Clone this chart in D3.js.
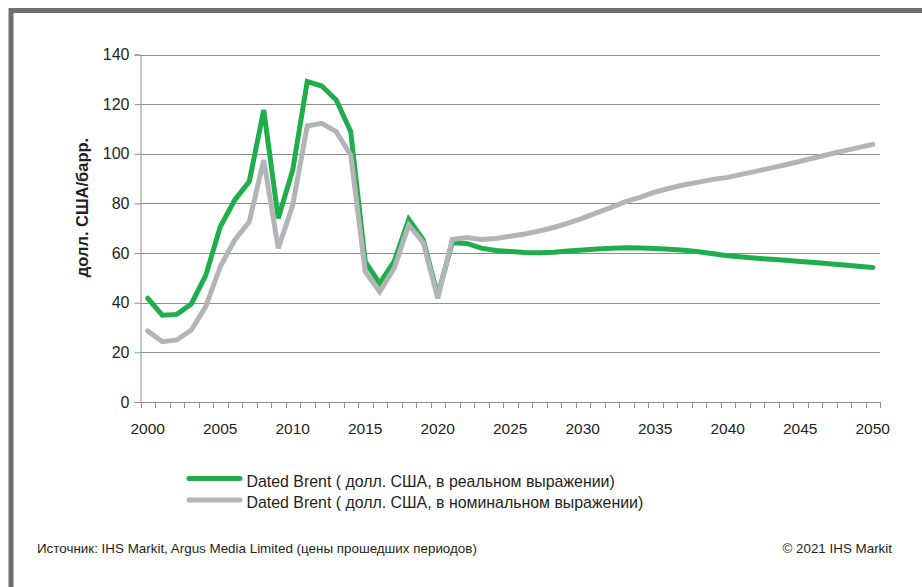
<!DOCTYPE html>
<html>
<head>
<meta charset="utf-8">
<script src="https://cdn.jsdelivr.net/npm/d3@7/dist/d3.min.js"></script>
<style>
  html, body { margin: 0; padding: 0; background: #fff; }
  svg { display: block; }
  text { font-family: "Liberation Sans", Arial, sans-serif; fill: #231f20; }
</style>
</head>
<body>
<svg id="chart" width="922" height="587"></svg>
<script>
// Dated Brent price, USD per barrel, 2000-2050
const years = d3.range(2000, 2051);
const realPrice = [
  41.8, 35.0, 35.3, 39.5, 51.0, 70.6, 81.4, 88.8, 117.6, 74.0,
  93.5, 129.1, 127.3, 121.7, 108.9, 56.5, 47.8, 56.8, 73.6, 65.3,
  43.0, 64.2, 63.9, 62.0, 61.0, 60.6, 60.2, 60.1, 60.3, 60.8,
  61.2, 61.6, 61.9, 62.1, 62.0, 61.8, 61.5, 61.1, 60.5, 59.7,
  58.9, 58.4, 57.9, 57.5, 57.1, 56.6, 56.2, 55.7, 55.2, 54.7,
  54.2
];
const nominalPrice = [
  28.6, 24.3, 25.0, 29.0, 38.4, 54.5, 65.3, 72.6, 97.5, 61.9,
  79.4, 111.2, 112.3, 108.9, 99.5, 52.5, 44.4, 53.9, 71.3, 64.2,
  41.8, 65.5, 66.3, 65.5, 65.9, 66.8, 67.7, 68.9, 70.3, 72.1,
  74.1, 76.3, 78.5, 80.8, 82.5, 84.6, 86.1, 87.5, 88.6, 89.7,
  90.5, 91.8, 93.0, 94.3, 95.6, 97.0, 98.4, 99.8, 101.2, 102.5,
  103.8
];
const yTicks = [0, 20, 40, 60, 80, 100, 120, 140];
const xLabelYears = [2000, 2005, 2010, 2015, 2020, 2025, 2030, 2035, 2040, 2045, 2050];
const seriesNames = [
  "Dated Brent ( долл. США, в реальном выражении)",
  "Dated Brent ( долл. США, в номинальном выражении)"
];
const seriesColors = ["#1fae4b", "#b3b4b8"];
const yTitle = "долл. США/барр.";
const sourceText = "Источник: IHS Markit, Argus Media Limited (цены прошедших периодов)";
const copyrightText = "© 2021 IHS Markit";

const svg = d3.select("#chart");

// outer frame (top and left edges are visible)
svg.append("rect")
  .attr("x", 11).attr("y", 10.5)
  .attr("width", 960).attr("height", 640)
  .attr("fill", "none")
  .attr("stroke", "#6e6e73")
  .attr("stroke-width", 5);

const plotLeft = 140.5, plotRight = 880, plotTop = 54.5, plotBottom = 402;

const x = d3.scaleBand().domain(years).range([plotLeft, plotRight]).padding(0);
const y = d3.scaleLinear().domain([0, 140]).range([plotBottom, plotTop]);
const cx = d => x(d) + x.bandwidth() / 2;

// horizontal gridlines
svg.append("g").selectAll("line")
  .data(yTicks.filter(v => v > 0))
  .join("line")
  .attr("x1", plotLeft).attr("x2", plotRight)
  .attr("y1", d => Math.round(y(d)) + 0.5).attr("y2", d => Math.round(y(d)) + 0.5)
  .attr("stroke", "#8e8e8e").attr("stroke-width", 1);

// y axis
const yAxis = svg.append("g")
  .attr("transform", `translate(${plotLeft},0)`)
  .call(d3.axisLeft(y).tickValues(yTicks).tickSize(6).tickPadding(5).tickFormat(d3.format("d")));
yAxis.select(".domain").attr("stroke", "#8e8e8e");
yAxis.selectAll(".tick line").attr("stroke", "#8e8e8e");
yAxis.selectAll(".tick text")
  .attr("font-size", 16).attr("fill", "#231f20")
  .attr("font-family", "'Liberation Sans', Arial, sans-serif");

// x axis baseline and category boundary ticks
const xAxis = svg.append("g");
xAxis.append("line")
  .attr("x1", plotLeft).attr("x2", plotRight)
  .attr("y1", plotBottom + 0.5).attr("y2", plotBottom + 0.5)
  .attr("stroke", "#8e8e8e");
const boundaries = years.map(d => x(d)).concat([x(years[years.length - 1]) + x.bandwidth()]);
xAxis.selectAll("line.tick")
  .data(boundaries)
  .join("line")
  .attr("class", "tick")
  .attr("x1", d => Math.round(d) + 0.5).attr("x2", d => Math.round(d) + 0.5)
  .attr("y1", plotBottom).attr("y2", plotBottom + 6)
  .attr("stroke", "#8e8e8e");
xAxis.selectAll("text")
  .data(xLabelYears)
  .join("text")
  .attr("x", d => cx(d))
  .attr("y", 434)
  .attr("text-anchor", "middle")
  .attr("font-size", 15.5)
  .text(d => d);

// y axis title
svg.append("text")
  .attr("transform", `translate(88,207.5) rotate(-90)`)
  .attr("text-anchor", "middle")
  .attr("font-size", 16.5)
  .attr("font-weight", "bold")
  .text(yTitle);

// series lines (nominal drawn on top)
const line = d3.line().x((d, i) => cx(years[i])).y(d => y(d));
[realPrice, nominalPrice].forEach((vals, i) => {
  svg.append("path")
    .datum(vals)
    .attr("d", line)
    .attr("fill", "none")
    .attr("stroke", seriesColors[i])
    .attr("stroke-width", 5)
    .attr("stroke-linejoin", "miter")
    .attr("stroke-miterlimit", 2.2)
    .attr("stroke-linecap", "round");
});

// legend
const legend = svg.append("g");
seriesNames.forEach((name, i) => {
  const ly = 478.5 + i * 21.5;
  legend.append("line")
    .attr("x1", 189).attr("x2", 240)
    .attr("y1", ly).attr("y2", ly)
    .attr("stroke", seriesColors[i])
    .attr("stroke-width", 5)
    .attr("stroke-linecap", "round");
  legend.append("text")
    .attr("x", 246.5).attr("y", ly + 8)
    .attr("font-size", 15.9)
    .text(name);
});

// footer
svg.append("text")
  .attr("x", 37).attr("y", 553)
  .attr("font-size", 13.4)
  .attr("font-family", "'Liberation Sans Narrow', 'Arial Narrow', sans-serif")
  .text(sourceText);
svg.append("text")
  .attr("x", 892).attr("y", 553)
  .attr("text-anchor", "end")
  .attr("font-size", 13.4)
  .attr("font-family", "'Liberation Sans Narrow', 'Arial Narrow', sans-serif")
  .text(copyrightText);
</script>
</body>
</html>
